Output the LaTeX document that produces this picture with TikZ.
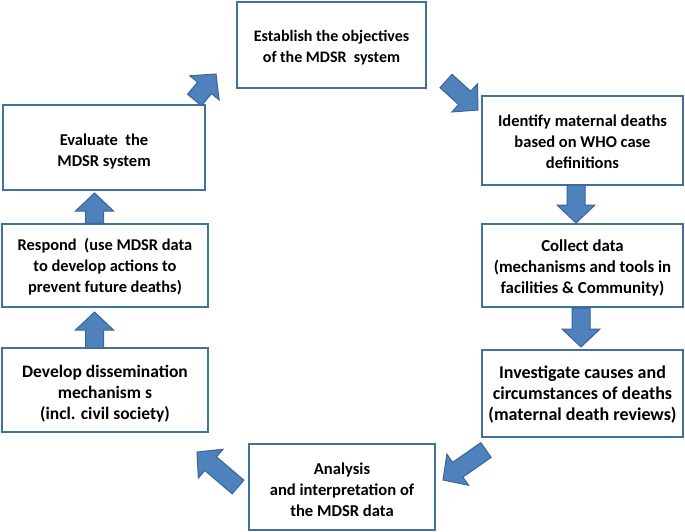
\documentclass[tikz,border=0pt]{standalone}
\usepackage{fontspec}
\setmainfont{Carlito}
\usetikzlibrary{calc}
\definecolor{boxline}{HTML}{41719C}
\definecolor{arrfill}{HTML}{4F81BD}
\definecolor{arrline}{HTML}{3A6595}
\tikzset{
  stepbox/.style={draw=boxline, line width=2.2pt, fill=white, inner sep=0pt, align=center,
    font=\bfseries, text=black},
  barr/.style={fill=arrfill, draw=arrline, line width=1pt, line join=miter},
}
\newcommand\barrow[2]{%
  \coordinate (hb) at ($(#2)!18pt!(#1)$);
  \draw[barr] ($(#1)!9pt!90:(#2)$) -- ($(hb)!9pt!90:(#2)$) -- ($(hb)!19pt!90:(#2)$) -- (#2)
    -- ($(hb)!19pt!-90:(#2)$) -- ($(hb)!9pt!-90:(#2)$) -- ($(#1)!9pt!-90:(#2)$) -- cycle;}
\begin{document}
\begin{tikzpicture}[x=1pt,y=-1pt]
\useasboundingbox (0,0) rectangle (685,532);
% name, x1, y1, x2, y2, font size, text shift
\newcommand\bx[8]{\draw[stepbox] (#2,#3) rectangle (#4,#5);
  \node[align=center, inner sep=0pt, font=\fontsize{#6}{21}\selectfont\bfseries] (#1) at ({(#2+#4)/2},{(#3+#5)/2+#7}) {#8};}
\bx{est}{237}{2}{426}{88}{16}{3}{Establish the objectives\\of the MDSR\ \ system}
\bx{ide}{482}{96}{683}{185}{16.5}{1}{Identify maternal deaths\\based on WHO case\\definitions}
\bx{col}{482}{224}{683}{307}{16.8}{2}{Collect data\\(mechanisms and tools in\\facilities \& Community)}
\bx{inv}{482}{350}{683}{437}{18}{1}{Investigate causes and\\circumstances of deaths\\(maternal death reviews)}
\bx{ana}{249}{444}{435}{530}{16.6}{3}{Analysis\\and interpretation of\\the MDSR data}
\bx{dev}{2}{348}{208}{432}{17.5}{4}{Develop dissemination\\mechanism s\\(incl. civil society)}
\bx{res}{2}{224}{208}{307}{16.4}{1}{Respond\ \ (use MDSR data\\to develop actions to\\prevent future deaths)}
\bx{eva}{3}{105}{205}{190}{16.5}{4}{Evaluate\ \ the\\MDSR system}
% arrow end points
\coordinate (a1s) at (194.5,100); \coordinate (a1e) at (216,74);
\coordinate (a2s) at (446,81); \coordinate (a2e) at (478,110);
\coordinate (a3s) at (576,185); \coordinate (a3e) at (576,223);
\coordinate (a4s) at (581,308); \coordinate (a4e) at (581,347);
\coordinate (a5s) at (486,450); \coordinate (a5e) at (443,480);
\coordinate (a6s) at (238,487); \coordinate (a6e) at (197,452);
\coordinate (a7s) at (94.5,348); \coordinate (a7e) at (94.5,312);
\coordinate (a8s) at (94.5,223); \coordinate (a8e) at (94.5,193);
\barrow{a1s}{a1e}
\barrow{a2s}{a2e}
\barrow{a3s}{a3e}
\barrow{a4s}{a4e}
\barrow{a5s}{a5e}
\barrow{a6s}{a6e}
\barrow{a7s}{a7e}
\barrow{a8s}{a8e}
\end{tikzpicture}
\end{document}
